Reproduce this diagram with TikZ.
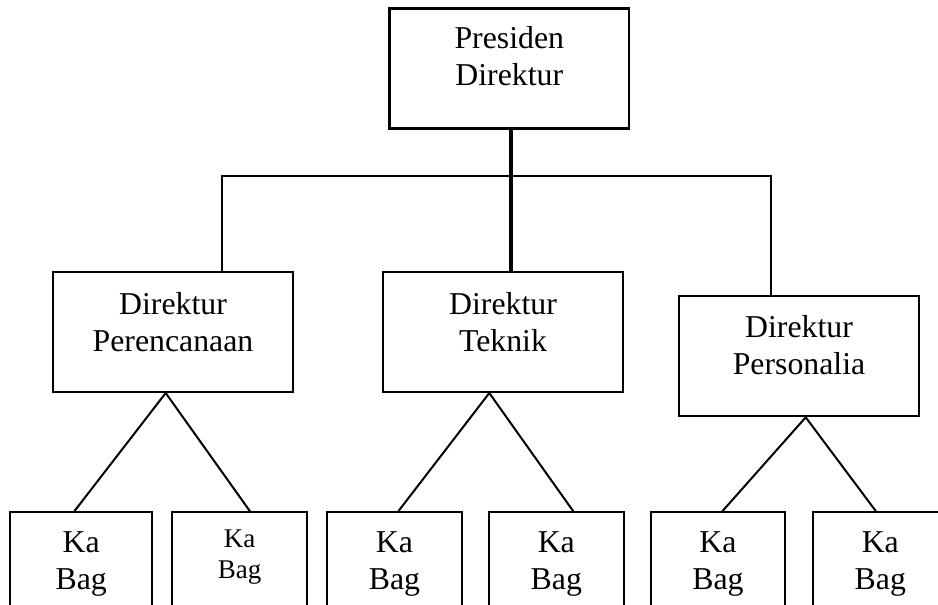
\documentclass[tikz,border=0pt]{standalone}
\usepackage{fontspec}
\setmainfont{Liberation Serif}
\usetikzlibrary{positioning,calc}

\begin{document}
\begin{tikzpicture}[
    x=0.5pt, y=-0.5pt,
    box/.style={draw, line width=1pt, minimum width=120pt, minimum height=60pt, inner sep=0pt},
    kabox/.style={draw, line width=1pt, minimum width=67.2pt, minimum height=60pt, inner sep=0pt},
    lbl/.style={anchor=north, inner sep=0pt, align=center, font=\fontsize{15.9pt}{18.5pt}\selectfont},
    lblsmall/.style={anchor=north, inner sep=0pt, align=center, font=\fontsize{13.5pt}{15.5pt}\selectfont},
    link/.style={line width=1pt},
    spine/.style={line width=2pt}
  ]
  \useasboundingbox (0,0) rectangle (938,605);
  \clip (0,0) rectangle (938,605);

  % pimpinan
  \node[box, minimum width=119.7pt, line width=1.3pt] (pres) at (509.3,68.3) {};
  \node[lbl, below=9.3pt of pres.north] (presT) {Presiden\\Direktur};

  % direktur
  \node[box] (perenc) at (173,332) {};
  \node[lbl, below=10.3pt of perenc.north] (perencT) {Direktur\\Perencanaan};
  \node[box] (teknik) at (503,332) {};
  \node[lbl, below=10.3pt of teknik.north] (teknikT) {Direktur\\Teknik};
  \node[box] (perso) at (799,356.3) {};
  \node[lbl, below=9.7pt of perso.north] (persoT) {Direktur\\Personalia};

  % kepala bagian
  \node[kabox, minimum width=70.9pt] (kb1) at (81.2,572.3) {};
  \node[lbl, below=10.2pt of kb1.north] (kb1T) {Ka\\Bag};
  \node[kabox] (kb2) at (239.5,572.3) {};
  \node[lblsmall, below=9.2pt of kb2.north] (kb2T) {Ka\\Bag};
  \node[kabox] (kb3) at (394.5,572.3) {};
  \node[lbl, below=10.2pt of kb3.north] (kb3T) {Ka\\Bag};
  \node[kabox] (kb4) at (556.3,572.3) {};
  \node[lbl, below=10.2pt of kb4.north] (kb4T) {Ka\\Bag};
  \node[kabox] (kb5) at (717.9,572.3) {};
  \node[lbl, below=10.2pt of kb5.north] (kb5T) {Ka\\Bag};
  \node[kabox] (kb6) at (880.3,572.3) {};
  \node[lbl, below=10.2pt of kb6.north] (kb6T) {Ka\\Bag};

  % garis komando
  \coordinate (barR) at ([xshift=-14pt]perso.north |- 0,176);
  \draw[spine] ([xshift=0.7pt]pres.south) -- ([xshift=0.7pt]pres.south |- teknik.north);
  \draw[link] ([xshift=24.5pt]perenc.north) |- (barR) -- ([xshift=-14pt]perso.north);

  \draw[link] ([xshift=-3.45pt]kb1.north) -- ([xshift=-3.65pt]perenc.south) -- ([xshift=5.25pt]kb2.north);
  \draw[link] ([xshift=1.9pt]kb3.north) -- ([xshift=-6.85pt]teknik.south) -- ([xshift=8.5pt]kb4.north);
  \draw[link] ([xshift=2.2pt]kb5.north) -- ([xshift=3.35pt]perso.south) -- ([xshift=-2.15pt]kb6.north);
\end{tikzpicture}
\end{document}
